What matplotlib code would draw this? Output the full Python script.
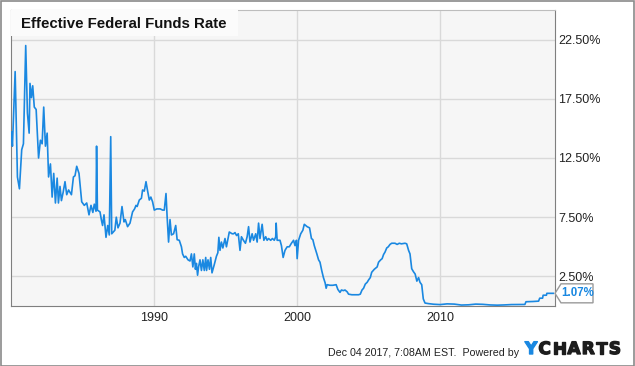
import matplotlib
matplotlib.use("Agg")
import matplotlib.pyplot as plt
import matplotlib.patheffects as pe
from matplotlib.patches import Rectangle, Polygon

plt.rcParams['font.family'] = ['Liberation Sans', 'DejaVu Sans']

# Effective federal funds rate (decimal year, percent)
years = [
    1980.00, 1980.07, 1980.26, 1980.42, 1980.56, 1980.72, 1980.84, 1981.00, 1981.12, 1981.24,
    1981.30, 1981.40, 1981.49, 1981.60, 1981.73, 1981.90, 1982.03, 1982.15, 1982.26, 1982.38,
    1982.50, 1982.60, 1982.73, 1982.85, 1982.96, 1983.08, 1983.20, 1983.29, 1983.40, 1983.50,
    1983.62, 1983.75, 1983.87, 1984.00, 1984.20, 1984.34, 1984.45, 1984.57, 1984.73, 1984.92,
    1985.10, 1985.27, 1985.43, 1985.57, 1985.70, 1985.80, 1985.92, 1985.96, 1986.02, 1986.20,
    1986.30, 1986.38, 1986.48, 1986.62, 1986.74, 1986.85, 1986.95, 1987.02, 1987.24, 1987.34,
    1987.46, 1987.60, 1987.74, 1987.88, 1987.97, 1988.13, 1988.30, 1988.48, 1988.62, 1988.72,
    1988.80, 1988.95, 1989.10, 1989.18, 1989.30, 1989.42, 1989.52, 1989.65, 1989.76, 1989.88,
    1990.00, 1990.18, 1990.42, 1990.58, 1990.70, 1990.82, 1990.90, 1991.00, 1991.10, 1991.20,
    1991.35, 1991.50, 1991.60, 1991.75, 1991.90, 1991.98, 1992.10, 1992.20, 1992.36, 1992.50,
    1992.60, 1992.70, 1992.80, 1992.88, 1992.95, 1993.03, 1993.10, 1993.20, 1993.30, 1993.40,
    1993.50, 1993.60, 1993.66, 1993.76, 1993.86, 1993.95, 1994.04, 1994.20, 1994.35, 1994.45,
    1994.52, 1994.60, 1994.70, 1994.80, 1994.95, 1995.05, 1995.25, 1995.45, 1995.55, 1995.65,
    1995.76, 1995.88, 1996.00, 1996.10, 1996.24, 1996.38, 1996.50, 1996.60, 1996.70, 1996.85,
    1996.95, 1997.10, 1997.20, 1997.30, 1997.40, 1997.55, 1997.67, 1997.80, 1997.90, 1998.00,
    1998.15, 1998.27, 1998.40, 1998.50, 1998.53, 1998.60, 1998.80, 1998.90, 1999.02, 1999.15,
    1999.30, 1999.45, 1999.60, 1999.75, 1999.85, 1999.95, 2000.00, 2000.10, 2000.25, 2000.40,
    2000.50, 2000.70, 2000.87, 2001.00, 2001.10, 2001.20, 2001.38, 2001.50, 2001.60, 2001.72,
    2001.84, 2001.96, 2002.03, 2002.10, 2002.30, 2002.50, 2002.73, 2002.85, 2003.00, 2003.10,
    2003.24, 2003.35, 2003.50, 2003.60, 2003.83, 2004.06, 2004.30, 2004.42, 2004.54, 2004.65,
    2004.77, 2004.90, 2005.00, 2005.12, 2005.22, 2005.40, 2005.60, 2005.70, 2005.85, 2005.95,
    2006.05, 2006.15, 2006.27, 2006.38, 2006.50, 2006.62, 2006.85, 2007.00, 2007.15, 2007.30,
    2007.55, 2007.67, 2007.80, 2007.90, 2008.02, 2008.14, 2008.26, 2008.38, 2008.50, 2008.60,
    2008.72, 2008.83, 2008.95, 2009.20, 2009.55, 2010.00, 2010.50, 2011.00, 2011.50, 2012.00,
    2012.50, 2013.00, 2013.50, 2014.00, 2014.50, 2015.00, 2015.50, 2015.94, 2016.02, 2016.50,
    2016.90, 2016.98, 2017.18, 2017.22, 2017.45, 2017.48, 2017.92,
]
rates = [
    14.7, 13.5, 19.8, 10.9, 9.9, 13.2, 13.7, 22.0, 16.3, 14.6,
    18.8, 17.6, 18.6, 16.8, 16.6, 12.5, 14.0, 13.7, 16.8, 13.5,
    14.6, 10.9, 12.0, 9.2, 11.2, 8.7, 10.8, 8.7, 10.1, 8.9,
    9.6, 10.5, 9.4, 9.8, 9.4, 10.9, 11.0, 11.8, 11.2, 8.8,
    8.5, 8.7, 7.7, 8.5, 7.9, 8.6, 8.0, 13.5, 8.1, 7.95,
    7.25, 6.8, 7.7, 5.8, 6.8, 6.0, 14.3, 6.1, 6.4, 7.5,
    6.6, 7.0, 8.4, 7.1, 7.3, 6.7, 7.0, 7.95, 8.2, 8.5,
    8.4, 8.95, 9.1, 9.8, 9.7, 10.5, 9.8, 8.95, 9.2, 8.8,
    8.1, 8.2, 8.2, 8.1, 8.1, 9.5, 7.5, 5.4, 7.3, 6.0,
    6.1, 6.8, 5.6, 5.55, 5.0, 4.4, 4.1, 4.2, 3.9, 3.8,
    4.4, 3.3, 4.4, 3.1, 3.6, 2.6, 3.3, 3.9, 3.0, 3.9,
    3.0, 4.1, 3.0, 3.9, 3.1, 4.1, 2.8, 3.5, 4.2, 4.5,
    5.8, 4.7, 5.4, 4.9, 5.7, 5.0, 6.25, 6.1, 6.1, 6.2,
    5.95, 6.1, 4.7, 5.85, 5.55, 5.3, 5.85, 6.7, 5.4, 6.1,
    5.55, 6.1, 5.4, 7.0, 5.7, 6.9, 5.55, 5.85, 5.55, 5.7,
    5.55, 5.7, 5.55, 5.85, 7.0, 5.55, 5.55, 5.1, 4.1, 4.7,
    5.0, 5.0, 5.3, 5.55, 5.1, 5.55, 4.0, 5.55, 6.1, 6.4,
    6.9, 6.7, 6.6, 5.7, 5.6, 5.1, 4.4, 3.9, 3.7, 3.0,
    2.4, 1.95, 1.5, 1.8, 1.75, 1.75, 1.8, 1.4, 1.15, 1.35,
    1.3, 1.35, 1.2, 1.0, 0.95, 0.95, 0.95, 1.0, 1.35, 1.5,
    1.85, 2.0, 2.2, 2.4, 2.85, 3.1, 3.3, 3.7, 3.9, 4.0,
    4.35, 4.55, 4.9, 5.0, 5.2, 5.3, 5.3, 5.2, 5.3, 5.25,
    5.3, 5.25, 4.7, 4.4, 3.15, 2.9, 2.7, 2.1, 2.4, 2.0,
    1.8, 0.6, 0.25, 0.2, 0.15, 0.12, 0.18, 0.16, 0.08, 0.1,
    0.16, 0.14, 0.09, 0.07, 0.09, 0.12, 0.13, 0.13, 0.36, 0.38,
    0.41, 0.66, 0.66, 0.91, 0.91, 1.07, 1.07,
]

y_ticks = [2.5, 7.5, 12.5, 17.5, 22.5]
x_ticks = [1990, 2000, 2010]

line_color = '#1a88e1'
W, H = 635, 366

fig = plt.figure(figsize=(W / 100, H / 100), dpi=100)
fig.patch.set_facecolor('white')
fig.patches.append(Rectangle((0.5 / W, 0.5 / H), 1 - 1.5 / W, 1 - 1.5 / H,
                             transform=fig.transFigure, fill=False,
                             edgecolor='#8a8a8a', linewidth=1.2))

ax = fig.add_axes([11 / W, 1 - 306 / H, 544 / W, 296 / H])
ax.set_facecolor('#f6f6f6')
ax.plot(years, rates, color=line_color, linewidth=1.2, zorder=3)

ax.set_xlim(1979.97, 2018.05)
ax.set_ylim(0, 25)
ax.set_xticks(x_ticks)
ax.set_xticklabels([str(x) for x in x_ticks])
ax.set_yticks(y_ticks)
ax.set_yticklabels(['%.2f%%' % v for v in y_ticks])
ax.yaxis.tick_right()
ax.tick_params(axis='both', length=0, labelsize=9, labelcolor='#222222')
ax.tick_params(axis='x', pad=4)
ax.tick_params(axis='y', pad=2.5)
ax.grid(True, color='#d9d9d9', linewidth=1)
ax.set_axisbelow(True)
for side in ['left', 'bottom', 'right']:
    ax.spines[side].set_color('#7f7f7f')
ax.spines['top'].set_color('#bdbdbd')

# title box
ax.add_patch(Rectangle((0, 1 - 26 / 296), 227 / 544, 26 / 296, transform=ax.transAxes,
                       facecolor='#fbfbfb', edgecolor='none', zorder=4))
ax.text(10 / 544, 1 - 13.5 / 296, 'Effective Federal Funds Rate', transform=ax.transAxes,
        ha='left', va='center', fontsize=10.8, fontweight='bold', color='#111111',
        zorder=5)

# last value callout
last = rates[-1]
fig.canvas.draw()
renderer = fig.canvas.get_renderer()
tx, ty = ax.transData.transform((ax.get_xlim()[1], last))
pts = [(0, 0), (6, 9.5), (38, 9.5), (38, -9.5), (6, -9.5)]
poly = Polygon([((tx + dx) / W, (ty + dy) / H) for dx, dy in pts], closed=True,
               transform=fig.transFigure, facecolor='white', edgecolor='#9a9a9a',
               linewidth=1, zorder=6)
fig.patches.append(poly)
fig.text((tx + 22.5) / W, ty / H, '%.2f%%' % last, ha='center', va='center',
         fontsize=8.3, fontweight='bold', color=line_color, zorder=7)

# footer
fig.text(328 / W, 1 - 352.5 / H, 'Dec 04 2017, 7:08AM EST.  Powered by', ha='left',
         va='center', fontsize=7.7, color='#222222')

# YCHARTS logo, letter by letter, heavy weight
x = 525.0
for i, ch in enumerate('YCHARTS'):
    c = line_color if i == 0 else '#1c1c1c'
    t = fig.text(x / W, 1 - 349 / H, ch, ha='left', va='center', fontsize=12.2,
                 fontweight='bold', family='DejaVu Sans', color=c,
                 path_effects=[pe.withStroke(linewidth=1.0, foreground=c)])
    x += t.get_window_extent(renderer).width + 1.3

fig.savefig('out.png', dpi=100)
